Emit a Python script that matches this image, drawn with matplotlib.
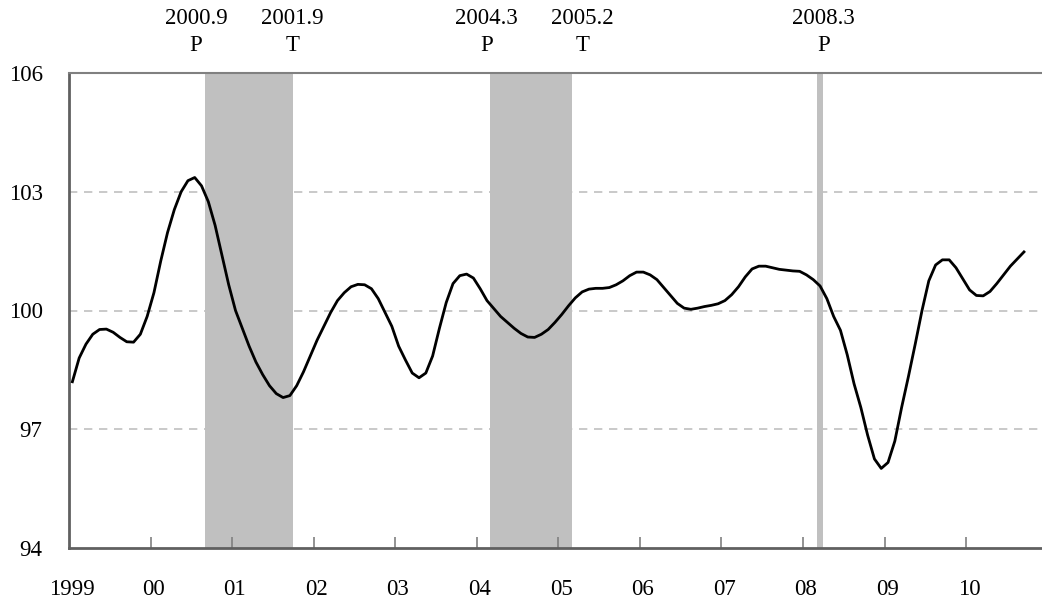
import numpy as np
import matplotlib
matplotlib.use("Agg")
import matplotlib.pyplot as plt

plt.rcParams['font.family'] = ['Liberation Serif', 'DejaVu Serif']

# monthly index, Jan 1999 .. Sep 2010
values = [
    98.20, 98.80, 99.15, 99.40, 99.52, 99.53, 99.45, 99.32, 99.21, 99.20, 99.40, 99.85,   # 1999
    100.45, 101.25, 101.97, 102.55, 103.00, 103.28, 103.36, 103.15, 102.75, 102.15, 101.40, 100.65,  # 2000
    100.00, 99.55, 99.10, 98.70, 98.38, 98.10, 97.90, 97.80, 97.85, 98.10, 98.45, 98.85,   # 2001
    99.25, 99.60, 99.95, 100.25, 100.45, 100.60, 100.66, 100.65, 100.55, 100.30, 99.95, 99.60,  # 2002
    99.10, 98.75, 98.42, 98.30, 98.42, 98.85, 99.55, 100.20, 100.68, 100.88, 100.92, 100.82,  # 2003
    100.55, 100.25, 100.05, 99.85, 99.70, 99.55, 99.42, 99.33, 99.32, 99.40, 99.52, 99.70,  # 2004
    99.90, 100.12, 100.32, 100.47, 100.54, 100.56, 100.56, 100.58, 100.65, 100.75, 100.88, 100.97,  # 2005
    100.97, 100.90, 100.78, 100.58, 100.38, 100.18, 100.06, 100.03, 100.06, 100.10, 100.13, 100.17,  # 2006
    100.25, 100.40, 100.60, 100.85, 101.05, 101.12, 101.12, 101.08, 101.04, 101.02, 101.00, 100.99,  # 2007
    100.90, 100.78, 100.62, 100.30, 99.85, 99.50, 98.88, 98.15, 97.55, 96.85, 96.25, 96.01,  # 2008
    96.16, 96.70, 97.55, 98.33, 99.15, 100.00, 100.75, 101.15, 101.28, 101.28, 101.08, 100.80,  # 2009
    100.52, 100.38, 100.37, 100.48, 100.68, 100.90, 101.12, 101.30, 101.48,  # 2010
]

year_labels = ['1999', '00', '01', '02', '03', '04', '05', '06', '07', '08', '09', '10']

# shaded phases (month index from Jan 1999) and turning point labels
shades = [(20, 33), (62, 74), (110, 111)]
turn_dates = ['2000.9', '2001.9', '2004.3', '2005.2', '2008.3']
turn_kinds = ['P', 'T', 'P', 'T', 'P']
label_x = [18.7, 32.9, 61.4, 75.5, 111.0]

fig = plt.figure(figsize=(10.42, 6.0), dpi=100)
ax = fig.add_axes([0.0662, 0.0867, 0.9328, 0.7916])

x = np.arange(len(values)) + 0.5
for a, b in shades:
    ax.axvspan(a, b, color='#c0c0c0', lw=0, zorder=1)
ax.plot(x, values, color='black', lw=2.0, zorder=3, solid_joinstyle='round')

for yv in [97, 100, 103]:
    ax.axhline(yv, color='#c0c0c0', lw=1.2, ls=(0, (5, 4)), zorder=2)

ax.set_xlim(0, 143)
ax.set_ylim(94, 106)
ax.set_yticks([94, 97, 100, 103, 106])
ax.set_yticklabels(['94', '97', '100', '103', '106'])
ax.tick_params(axis='y', length=0, pad=19, labelsize=16.5)

ax.set_xticks(np.arange(12, 133, 12))
ax.set_xticks(np.arange(0, 133, 12) + 0.4, minor=True)
ax.set_xticklabels([])
ax.set_xticklabels(year_labels, minor=True)
ax.tick_params(axis='x', which='major', direction='in', length=8, color='#808080', width=1.2)
ax.tick_params(axis='x', which='minor', length=0, pad=22, labelsize=16.5)

for s in ['left', 'bottom']:
    ax.spines[s].set_color('#606060')
    ax.spines[s].set_linewidth(2)
ax.spines['top'].set_color('#808080')
ax.spines['top'].set_linewidth(1.5)
ax.spines['right'].set_visible(False)

for lx, date, kind in zip(label_x, turn_dates, turn_kinds):
    ax.text(lx, 1.115, date, transform=ax.get_xaxis_transform(), ha='center', va='center', fontsize=16.5)
    ax.text(lx, 1.057, kind, transform=ax.get_xaxis_transform(), ha='center', va='center', fontsize=16.5)

fig.savefig('out.png', dpi=100)
